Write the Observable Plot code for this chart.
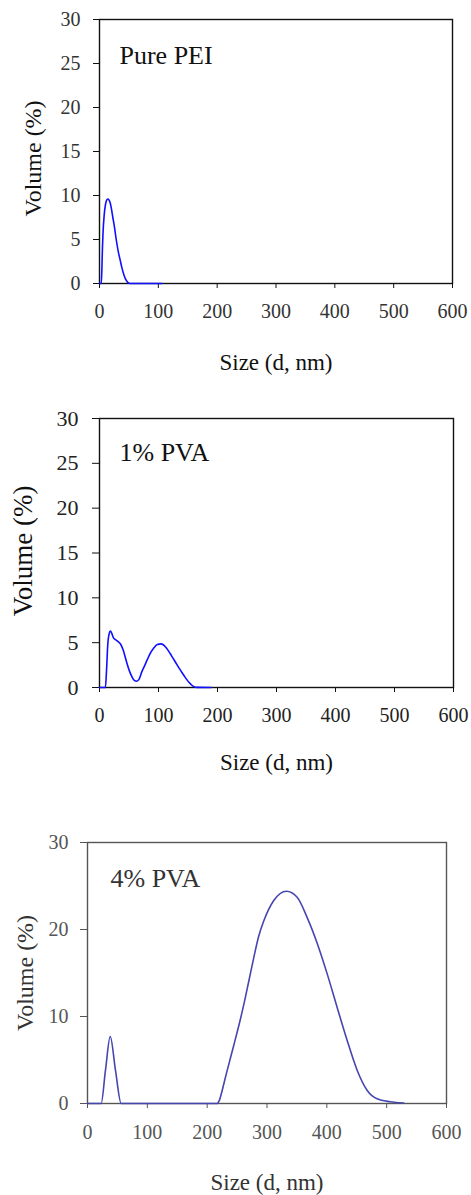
<!DOCTYPE html>
<html>
<head>
<meta charset="utf-8">
<script src="https://cdn.jsdelivr.net/npm/d3@7"></script>
<script src="https://cdn.jsdelivr.net/npm/@observablehq/plot@0.6"></script>
<style>
  html, body { margin: 0; padding: 0; background: #fff; }
  #wrap { width: 471px; }
  #wrap > div { display: block; line-height: 0; }
  svg { display: block; }
</style>
</head>
<body>
<div id="wrap"><div id="p1"></div><div id="p2"></div><div id="p3"></div></div>
<script>
// ---- data ----
const xTicks = [0, 100, 200, 300, 400, 500, 600];
const yTicksA = [0, 5, 10, 15, 20, 25, 30];
const yTicksB = [0, 10, 20, 30];
const panelLabels = ["Pure PEI", "1% PVA", "4% PVA"];
const xLabel = "Size (d, nm)";
const yLabel = "Volume (%)";

const peiSize = [0, 3, 4, 5, 6, 8, 10, 12, 14, 16, 18, 20, 22.7, 25, 28.4, 32, 35.7, 38, 41.4, 45, 48, 52, 106];
const peiVol  = [0, 0, 1.5, 4, 5.8, 7.8, 8.9, 9.45, 9.6, 9.5, 9.2, 8.6, 7.5, 6.6, 5.0, 3.6, 2.5, 1.8, 1.0, 0.4, 0.12, 0, 0];

const pva1Size = [0, 10, 12, 14, 16, 18.6, 21, 24, 27, 31, 35.6, 40, 44, 47, 51, 55, 59, 63, 67, 72, 77, 81, 86, 92, 98, 104, 108, 112, 116, 120, 124, 128, 132, 136, 140, 144, 148, 152, 156, 160, 165, 189];
const pva1Vol  = [0, 0, 2, 4.8, 5.9, 6.3, 6.0, 5.5, 5.35, 5.15, 4.85, 4.2, 3.3, 2.6, 1.8, 1.2, 0.8, 0.7, 0.9, 1.8, 2.5, 3.1, 3.8, 4.4, 4.8, 4.87, 4.77, 4.52, 4.17, 3.76, 3.33, 2.9, 2.47, 2.05, 1.64, 1.25, 0.88, 0.55, 0.28, 0.1, 0.01, 0];

const pva4Size = [0, 22.8, 30, 38, 46.8, 56.3, 216.7, 220, 224, 228, 232, 238, 244.5, 252, 261, 270, 278, 286, 294.7, 311, 332.6, 350.4, 367, 384, 400.6, 417, 434, 450.8, 467.5, 484, 506, 528.6];
const pva4Vol  = [0, 0, 3.8, 7.7, 3.8, 0, 0, 0.3, 1.2, 2.3, 3.4, 5.0, 6.7, 8.7, 11.3, 14.2, 16.8, 19.2, 21.0, 23.3, 24.4, 23.7, 21.4, 18.4, 14.9, 11.1, 7.24, 3.8, 1.5, 0.54, 0.2, 0.05];

const toRows = (xs, ys) => xs.map((s, i) => ({size: s, vol: ys[i]}));

function panel(cfg) {
  const rows = cfg.rows;
  return Plot.plot({
    width: 471,
    height: cfg.height,
    marginTop: cfg.mt, marginBottom: cfg.mb, marginLeft: cfg.ml, marginRight: cfg.mr,
    style: {fontFamily: "'Liberation Serif', 'Times New Roman', serif", background: "#fff", color: cfg.axisColor, overflow: "visible"},
    x: {domain: [0, 600]},
    y: {domain: [0, 30]},
    marks: [
      Plot.axisX({ticks: xTicks, tickSize: cfg.xts, tickPadding: cfg.xtp, fontSize: cfg.xfs, label: null, tickFormat: d => String(d), stroke: cfg.frameColor, fill: cfg.tickTextColor}),
      Plot.axisY({ticks: cfg.yTicks, tickSize: cfg.yts, tickPadding: cfg.ytp, fontSize: cfg.yfs, label: null, tickFormat: d => String(d), stroke: cfg.frameColor, fill: cfg.tickTextColor}),
      Plot.frame({stroke: cfg.frameColor, strokeWidth: 1.4}),
      Plot.line(rows, {x: "size", y: "vol", stroke: cfg.lineColor, strokeWidth: 1.6, curve: "monotone-x"}),
      Plot.text([cfg.name], {frameAnchor: "top-left", textAnchor: "start", lineAnchor: "middle", dx: cfg.ndx, dy: cfg.ndy, fontSize: 26, fill: cfg.nameColor}),
      Plot.text([xLabel], {frameAnchor: "bottom", textAnchor: "middle", lineAnchor: "middle", dy: cfg.xldy, fontSize: 23, fill: cfg.nameColor}),
      Plot.text([yLabel], {frameAnchor: "left", textAnchor: "middle", lineAnchor: "middle", rotate: -90, dx: cfg.yldx, dy: cfg.yldy, fontSize: cfg.ylfs, fill: cfg.nameColor})
    ]
  });
}

document.getElementById("p1").append(panel({
  rows: toRows(peiSize, peiVol), name: panelLabels[0], yTicks: yTicksA,
  height: 390, mt: 19, mb: 107, ml: 99, mr: 19,
  xts: 5, xtp: 15, xfs: 20, yts: 6, ytp: 13, yfs: 20,
  ndx: 20, ndy: 35.7, xldy: 79, yldx: -66, yldy: 7, ylfs: 24,
  frameColor: "#111", lineColor: "#1010ff", nameColor: "#111", tickTextColor: "#333", axisColor: "#111"
}));

document.getElementById("p2").append(panel({
  rows: toRows(pva1Size, pva1Vol), name: panelLabels[1], yTicks: yTicksA,
  height: 410, mt: 28, mb: 113, ml: 99, mr: 18,
  xts: 5, xtp: 15, xfs: 20, yts: 7, ytp: 14, yfs: 22,
  ndx: 20, ndy: 33.7, xldy: 75, yldx: -76, yldy: -2, ylfs: 27,
  frameColor: "#111", lineColor: "#1010ff", nameColor: "#111", tickTextColor: "#222", axisColor: "#111"
}));

document.getElementById("p3").append(panel({
  rows: toRows(pva4Size, pva4Vol), name: panelLabels[2], yTicks: yTicksB,
  height: 395, mt: 42, mb: 92, ml: 87, mr: 25,
  xts: 5, xtp: 16, xfs: 20, yts: 7, ytp: 12, yfs: 20,
  ndx: 23, ndy: 35.7, xldy: 79, yldx: -62, yldy: 0, ylfs: 24,
  frameColor: "#555", lineColor: "#4646b0", nameColor: "#333", tickTextColor: "#555", axisColor: "#555"
}));
</script>
</body>
</html>
